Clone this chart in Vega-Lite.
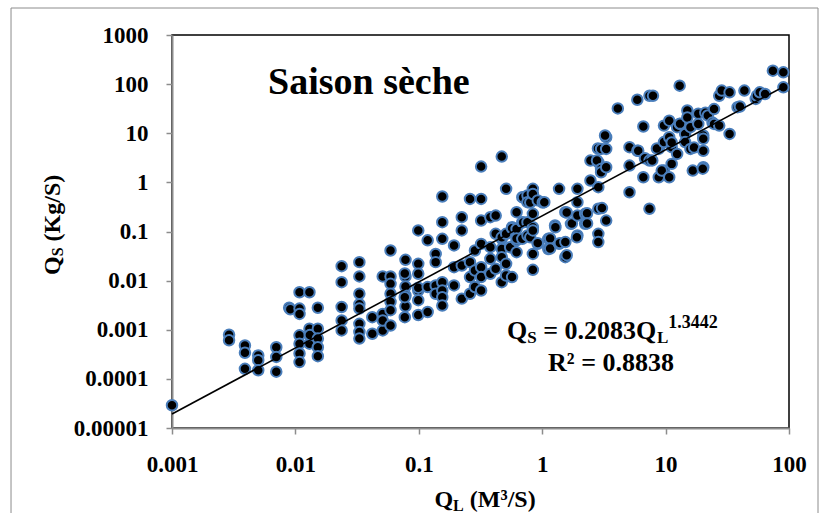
{
  "$schema": "https://vega.github.io/schema/vega-lite/v6.json",
  "width": 617,
  "height": 393,
  "autosize": {"type": "none"},
  "padding": {"left": 172, "top": 35, "right": 34, "bottom": 85},
  "background": "#ffffff",
  "config": {
    "view": {"stroke": "#000000", "strokeWidth": 1.5},
    "axis": {
      "labelFont": "Liberation Serif", "labelFontWeight": "bold", "labelFontSize": 23, "labelColor": "#000000",
      "domainColor": "#8c8c8c", "domainWidth": 2, "tickColor": "#8c8c8c", "tickWidth": 1.5, "tickSize": 6, "grid": false, "title": null
    },
    "text": {"font": "Liberation Serif", "fontWeight": "bold", "color": "#000000"}
  },
  "datasets": {
    "pts": [
      {"x":0.001,"y":0.000029},
      {"x":0.0029,"y":0.00079},{"x":0.0029,"y":0.00061},
      {"x":0.0039,"y":0.00048},{"x":0.0039,"y":0.00034},{"x":0.0039,"y":0.00016},
      {"x":0.005,"y":0.0003},{"x":0.005,"y":0.00024},{"x":0.005,"y":0.00015},
      {"x":0.007,"y":0.00044},{"x":0.007,"y":0.00028},{"x":0.007,"y":0.00014},
      {"x":0.0089,"y":0.0028},{"x":0.0091,"y":0.0026},
      {"x":0.0108,"y":0.0058},{"x":0.0108,"y":0.0027},{"x":0.0108,"y":0.0021},{"x":0.0108,"y":0.00077},{"x":0.0108,"y":0.00052},{"x":0.0108,"y":0.00033},{"x":0.0108,"y":0.00022},
      {"x":0.013,"y":0.0058},{"x":0.013,"y":0.00105},{"x":0.013,"y":0.00052},{"x":0.0131,"y":0.00078},
      {"x":0.0152,"y":0.0028},{"x":0.0152,"y":0.00105},{"x":0.0152,"y":0.00066},{"x":0.0152,"y":0.00044},{"x":0.0152,"y":0.00029},
      {"x":0.0237,"y":0.0197},{"x":0.0237,"y":0.0093},{"x":0.0237,"y":0.0029},{"x":0.0237,"y":0.00155},{"x":0.0237,"y":0.00097},
      {"x":0.033,"y":0.0238},{"x":0.033,"y":0.0122},{"x":0.033,"y":0.0054},{"x":0.033,"y":0.0033},{"x":0.033,"y":0.0027},{"x":0.033,"y":0.00132},{"x":0.033,"y":0.0009},{"x":0.033,"y":0.00066},
      {"x":0.042,"y":0.0018},{"x":0.042,"y":0.00083},
      {"x":0.051,"y":0.0122},{"x":0.051,"y":0.0021},{"x":0.051,"y":0.00097},{"x":0.051,"y":0.00155},
      {"x":0.059,"y":0.041},{"x":0.059,"y":0.0122},{"x":0.059,"y":0.0086},{"x":0.059,"y":0.0054},{"x":0.059,"y":0.0037},{"x":0.059,"y":0.0025},{"x":0.059,"y":0.00122},
      {"x":0.078,"y":0.0265},{"x":0.078,"y":0.0122},{"x":0.078,"y":0.0076},{"x":0.078,"y":0.005},{"x":0.078,"y":0.003},{"x":0.077,"y":0.014},{"x":0.077,"y":0.0046},{"x":0.077,"y":0.0018},
      {"x":0.099,"y":0.105},{"x":0.099,"y":0.022},{"x":0.099,"y":0.0138},{"x":0.099,"y":0.0063},{"x":0.099,"y":0.004},{"x":0.099,"y":0.002},{"x":0.099,"y":0.0072},
      {"x":0.118,"y":0.066},{"x":0.118,"y":0.0074},{"x":0.118,"y":0.0023},
      {"x":0.137,"y":0.035},{"x":0.137,"y":0.0238},{"x":0.137,"y":0.008},{"x":0.137,"y":0.0054},
      {"x":0.155,"y":0.515},{"x":0.155,"y":0.155},{"x":0.155,"y":0.071},{"x":0.155,"y":0.0093},{"x":0.155,"y":0.0063},{"x":0.155,"y":0.0046},{"x":0.155,"y":0.0031},
      {"x":0.193,"y":0.052},{"x":0.193,"y":0.0188},{"x":0.193,"y":0.008},
      {"x":0.223,"y":0.196},{"x":0.223,"y":0.105},{"x":0.223,"y":0.0203},{"x":0.223,"y":0.0043},
      {"x":0.26,"y":0.46},{"x":0.26,"y":0.0238},{"x":0.26,"y":0.0118},{"x":0.26,"y":0.0054},
      {"x":0.285,"y":0.041},{"x":0.285,"y":0.0161},{"x":0.285,"y":0.0074},
      {"x":0.32,"y":2.1},{"x":0.32,"y":0.46},{"x":0.32,"y":0.167},{"x":0.32,"y":0.056},{"x":0.32,"y":0.0188},{"x":0.32,"y":0.0118},{"x":0.32,"y":0.0063},
      {"x":0.38,"y":0.196},{"x":0.38,"y":0.048},{"x":0.38,"y":0.0278},{"x":0.38,"y":0.0138},
      {"x":0.42,"y":0.211},{"x":0.42,"y":0.0897},{"x":0.42,"y":0.0174},
      {"x":0.47,"y":3.35},{"x":0.47,"y":0.071},{"x":0.47,"y":0.044},{"x":0.47,"y":0.03},{"x":0.47,"y":0.0093},{"x":0.47,"y":0.076},
      {"x":0.51,"y":0.74},{"x":0.51,"y":0.0897},{"x":0.51,"y":0.022},{"x":0.51,"y":0.0127},
      {"x":0.57,"y":0.122},{"x":0.57,"y":0.048},{"x":0.57,"y":0.0118},{"x":0.57,"y":0.116},{"x":0.55,"y":0.048},
      {"x":0.62,"y":0.247},{"x":0.62,"y":0.113},{"x":0.62,"y":0.066},{"x":0.62,"y":0.038},{"x":0.62,"y":0.072},
      {"x":0.69,"y":0.5},{"x":0.69,"y":0.155},{"x":0.69,"y":0.071},{"x":0.7,"y":0.49},{"x":0.7,"y":0.153},
      {"x":0.76,"y":0.54},{"x":0.76,"y":0.395},{"x":0.76,"y":0.155},{"x":0.76,"y":0.083},
      {"x":0.8,"y":0.39},{"x":0.8,"y":0.076},
      {"x":0.84,"y":0.74},{"x":0.84,"y":0.58},{"x":0.84,"y":0.229},{"x":0.84,"y":0.122},{"x":0.84,"y":0.105},{"x":0.84,"y":0.035},{"x":0.84,"y":0.0166},
      {"x":0.92,"y":0.43},{"x":0.92,"y":0.056},{"x":0.92,"y":0.058},
      {"x":1.01,"y":0.39},{"x":1.04,"y":0.395},
      {"x":1.12,"y":0.071},{"x":1.12,"y":0.044},{"x":1.16,"y":0.072},{"x":1.16,"y":0.045},
      {"x":1.27,"y":0.133},{"x":1.28,"y":0.122},
      {"x":1.37,"y":0.74},{"x":1.37,"y":0.056},{"x":1.39,"y":0.058},
      {"x":1.54,"y":0.247},{"x":1.54,"y":0.061},{"x":1.54,"y":0.03},{"x":1.58,"y":0.244},{"x":1.58,"y":0.033},
      {"x":1.71,"y":0.143},{"x":1.74,"y":0.146},
      {"x":1.93,"y":0.74},{"x":1.93,"y":0.395},{"x":1.93,"y":0.211},{"x":1.93,"y":0.083},{"x":1.91,"y":0.076},
      {"x":2.23,"y":0.229},{"x":2.23,"y":0.143},{"x":2.31,"y":0.234},{"x":2.31,"y":0.146},
      {"x":2.46,"y":1.09},{"x":2.46,"y":2.78},
      {"x":2.85,"y":2.57},{"x":2.85,"y":0.8},{"x":2.85,"y":0.29},{"x":2.85,"y":0.0897},{"x":2.85,"y":0.061},{"x":2.78,"y":2.8},{"x":2.83,"y":4.9},
      {"x":3.0,"y":4.8},{"x":3.0,"y":1.88},{"x":3.0,"y":1.61},{"x":3.05,"y":0.3},
      {"x":3.3,"y":8.3},{"x":3.3,"y":4.8},{"x":3.3,"y":2.03},{"x":3.3,"y":0.167},{"x":3.23,"y":9.0},
      {"x":4.1,"y":32},
      {"x":5.1,"y":5.2},{"x":5.1,"y":2.2},{"x":5.1,"y":0.63},
      {"x":5.9,"y":48},{"x":5.9,"y":4.4},{"x":6.0,"y":4.4},
      {"x":6.6,"y":13.7},{"x":6.6,"y":1.27},{"x":6.8,"y":3.1},
      {"x":7.4,"y":0.29},{"x":7.4,"y":2.78},{"x":7.4,"y":58},{"x":7.8,"y":2.8},
      {"x":7.9,"y":58},
      {"x":8.8,"y":4.8},{"x":8.8,"y":1.27},{"x":8.5,"y":4.9},
      {"x":9.7,"y":14.3},{"x":9.7,"y":6.6},{"x":9.7,"y":1.74},{"x":9.3,"y":1.74},
      {"x":10.7,"y":18},{"x":10.7,"y":8.3},{"x":10.7,"y":1.27},
      {"x":11.2,"y":2.38},{"x":11.2,"y":5.2},{"x":11.2,"y":6.5},
      {"x":12.4,"y":13.3},{"x":12.4,"y":3.8},
      {"x":13,"y":93},{"x":13,"y":15.5},{"x":13.1,"y":15.7},
      {"x":14.4,"y":9.7},{"x":14.4,"y":6.6},
      {"x":15,"y":29},{"x":15,"y":21},
      {"x":15.9,"y":4.8},{"x":15.9,"y":13.3},
      {"x":16.6,"y":1.74},
      {"x":17,"y":5.1},
      {"x":18.4,"y":25},{"x":18.4,"y":15.5},
      {"x":20.2,"y":9},{"x":20.2,"y":7.7},{"x":20.2,"y":4.4},{"x":20.2,"y":2.03},{"x":20,"y":1.9},
      {"x":21,"y":26},
      {"x":22,"y":23},
      {"x":24,"y":16.5},
      {"x":24.7,"y":31},{"x":24.7,"y":15.5},
      {"x":27.2,"y":58},{"x":27.2,"y":14.3},
      {"x":28.5,"y":74},
      {"x":33,"y":68},{"x":33,"y":9.7},
      {"x":38.3,"y":34},{"x":40,"y":35},
      {"x":43.5,"y":74},
      {"x":53.8,"y":50},{"x":55,"y":58},
      {"x":58,"y":68},
      {"x":64,"y":63},
      {"x":74,"y":188},
      {"x":90,"y":174},{"x":90,"y":86}
    ],
    "trend": [
      {"x":0.001,"y":0.0000193},
      {"x":90,"y":88}
    ]
  },
  "layer": [
    {
      "data": {"name": "pts"},
      "mark": {"type": "point", "shape": "circle", "filled": false, "fill": "#000000", "fillOpacity": 1, "stroke": "#4a7ebb", "strokeWidth": 2, "opacity": 1, "size": 110},
      "encoding": {
        "x": {"field": "x", "type": "quantitative", "title": null,
              "scale": {"type": "log", "domain": [0.001, 100], "nice": false},
              "axis": {"title": null, "values": [0.001, 0.01, 0.1, 1, 10, 100], "format": ".5~f", "labelPadding": 19, "labelFlush": false}},
        "y": {"field": "y", "type": "quantitative", "title": null,
              "scale": {"type": "log", "domain": [0.00001, 1000], "nice": false},
              "axis": {"title": null, "values": [0.00001, 0.0001, 0.001, 0.01, 0.1, 1, 10, 100, 1000], "format": ".5~f", "labelPadding": 18, "labelFlush": false}}
      }
    },
    {
      "data": {"values": [{}]},
      "mark": {"type": "rect", "fill": null, "stroke": "#8c8c8c", "strokeWidth": 1, "clip": false},
      "encoding": {
        "x": {"datum": 0.0000496, "type": "quantitative", "title": null},
        "x2": {"datum": 171.8},
        "y": {"datum": 3544, "type": "quantitative", "title": null},
        "y2": {"datum": 0.000000134}
      }
    },
    {
      "data": {"name": "trend"},
      "mark": {"type": "line", "color": "#000000", "strokeWidth": 1.6},
      "encoding": {
        "x": {"field": "x", "type": "quantitative", "title": null},
        "y": {"field": "y", "type": "quantitative", "title": null}
      }
    },
    {
      "data": {"values": [{}]},
      "mark": {"type": "text", "text": "Saison sèche", "fontSize": 38, "align": "left", "baseline": "alphabetic"},
      "encoding": {"x": {"datum": 0.006, "type": "quantitative"}, "y": {"datum": 63, "type": "quantitative"}}
    },
    {
      "data": {"values": [{}]},
      "mark": {"type": "text", "text": "Q", "fontSize": 26, "align": "left", "baseline": "alphabetic"},
      "encoding": {"x": {"datum": 0.5185, "type": "quantitative"}, "y": {"datum": 0.000648, "type": "quantitative"}}
    },
    {
      "data": {"values": [{}]},
      "mark": {"type": "text", "text": "S", "fontSize": 17, "align": "left", "baseline": "alphabetic"},
      "encoding": {"x": {"datum": 0.7556, "type": "quantitative"}, "y": {"datum": 0.000537, "type": "quantitative"}}
    },
    {
      "data": {"values": [{}]},
      "mark": {"type": "text", "text": "= 0.2083Q", "fontSize": 26, "align": "left", "baseline": "alphabetic"},
      "encoding": {"x": {"datum": 1.0188, "type": "quantitative"}, "y": {"datum": 0.000648, "type": "quantitative"}}
    },
    {
      "data": {"values": [{}]},
      "mark": {"type": "text", "text": "L", "fontSize": 17, "align": "left", "baseline": "alphabetic"},
      "encoding": {"x": {"datum": 8.52, "type": "quantitative"}, "y": {"datum": 0.000537, "type": "quantitative"}}
    },
    {
      "data": {"values": [{}]},
      "mark": {"type": "text", "text": "1.3442", "fontSize": 18, "align": "left", "baseline": "alphabetic"},
      "encoding": {"x": {"datum": 10.52, "type": "quantitative"}, "y": {"datum": 0.001085, "type": "quantitative"}}
    },
    {
      "data": {"values": [{}]},
      "mark": {"type": "text", "text": "R² = 0.8838", "fontSize": 26, "align": "center", "baseline": "alphabetic"},
      "encoding": {"x": {"datum": 3.61, "type": "quantitative"}, "y": {"datum": 0.0001446, "type": "quantitative"}}
    },
    {
      "data": {"values": [{}]},
      "mark": {"type": "text", "text": "Q", "fontSize": 24, "align": "left", "baseline": "alphabetic", "angle": 270},
      "encoding": {"x": {"datum": 0.0001237, "type": "quantitative"}, "y": {"datum": 0.01302, "type": "quantitative"}}
    },
    {
      "data": {"values": [{}]},
      "mark": {"type": "text", "text": "S", "fontSize": 16, "align": "left", "baseline": "alphabetic", "angle": 270},
      "encoding": {"x": {"datum": 0.0001308, "type": "quantitative"}, "y": {"datum": 0.03127, "type": "quantitative"}}
    },
    {
      "data": {"values": [{}]},
      "mark": {"type": "text", "text": "(Kg/S)", "fontSize": 24, "align": "left", "baseline": "alphabetic", "angle": 270},
      "encoding": {"x": {"datum": 0.0001237, "type": "quantitative"}, "y": {"datum": 0.06287, "type": "quantitative"}}
    },
    {
      "data": {"values": [{}]},
      "mark": {"type": "text", "text": "Q", "fontSize": 24, "align": "left", "baseline": "alphabetic"},
      "encoding": {"x": {"datum": 0.1338, "type": "quantitative"}, "y": {"datum": 0.0000002466, "type": "quantitative"}}
    },
    {
      "data": {"values": [{}]},
      "mark": {"type": "text", "text": "L", "fontSize": 16, "align": "left", "baseline": "alphabetic"},
      "encoding": {"x": {"datum": 0.1897, "type": "quantitative"}, "y": {"datum": 0.0000002044, "type": "quantitative"}}
    },
    {
      "data": {"values": [{}]},
      "mark": {"type": "text", "text": "(M³/S)", "fontSize": 24, "align": "left", "baseline": "alphabetic"},
      "encoding": {"x": {"datum": 0.2591, "type": "quantitative"}, "y": {"datum": 0.0000002466, "type": "quantitative"}}
    }
  ]
}
